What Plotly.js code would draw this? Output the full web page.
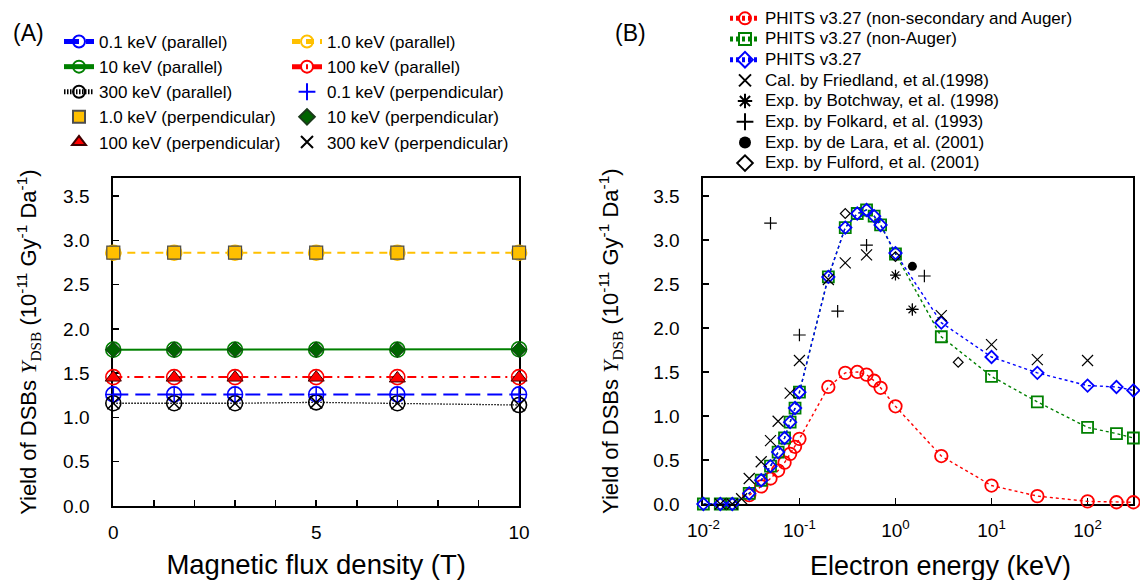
<!DOCTYPE html>
<html>
<head>
<meta charset="utf-8">
<script src="https://cdn.plot.ly/plotly-3.0.1.min.js"></script>
<style>
  html, body { margin: 0; padding: 0; background: #fff; }
  #chart { width: 1140px; height: 580px; }
</style>
</head>
<body>
<div id="chart"></div>
<script>
// ---------- Panel A: DSB yield versus magnetic flux density ----------
const fluxDensity = [0, 1.5, 3, 5, 7, 10];

const par_0_1keV = [1.26, 1.26, 1.26, 1.26, 1.26, 1.26];
const par_1_0keV = [2.86, 2.86, 2.86, 2.86, 2.86, 2.86];
const par_10keV = [1.765, 1.765, 1.765, 1.765, 1.765, 1.77];
const par_100keV = [1.455, 1.455, 1.455, 1.455, 1.455, 1.455];
const par_300keV = [1.16, 1.16, 1.16, 1.17, 1.16, 1.14];

const perp_0_1keV = [1.26, 1.26, 1.26, 1.26, 1.26, 1.26];
const perp_1_0keV = [2.86, 2.86, 2.86, 2.86, 2.86, 2.86];
const perp_10keV = [1.765, 1.765, 1.765, 1.765, 1.765, 1.765];
const perp_100keV = [1.45, 1.45, 1.45, 1.45, 1.44, 1.45];
const perp_300keV = [1.16, 1.16, 1.16, 1.17, 1.16, 1.14];

// ---------- Panel B: DSB yield versus electron energy ----------
const energyPhits = [0.01, 0.015, 0.02, 0.03, 0.04, 0.05, 0.06, 0.07, 0.08, 0.09, 0.1,
                     0.2, 0.3, 0.4, 0.5, 0.6, 0.7, 1, 3, 10, 30, 100, 200, 300];
const phitsFull = [0, 0, 0, 0.12, 0.27, 0.43, 0.59, 0.75, 0.93, 1.09, 1.27,
                   2.58, 3.14, 3.30, 3.34, 3.27, 3.17, 2.85, 2.06, 1.67, 1.49, 1.345, 1.33, 1.29];
const phitsNonAuger = [0, 0, 0, 0.12, 0.27, 0.43, 0.59, 0.75, 0.93, 1.09, 1.27,
                       2.58, 3.14, 3.30, 3.34, 3.27, 3.17, 2.84, 1.90, 1.45, 1.16, 0.87, 0.80, 0.75];

const energyNonSec = [0.03, 0.04, 0.05, 0.06, 0.07, 0.08, 0.09, 0.1,
                      0.2, 0.3, 0.4, 0.5, 0.6, 0.7, 1, 3, 10, 30, 100, 200, 300];
const phitsNonSec = [0.10, 0.20, 0.29, 0.38, 0.47, 0.57, 0.65, 0.74,
                     1.33, 1.49, 1.50, 1.47, 1.40, 1.32, 1.11, 0.545, 0.21, 0.09, 0.03, 0.02, 0.02];

const energyFriedland = [0.015, 0.02, 0.025, 0.03, 0.04, 0.05, 0.06, 0.08, 0.1, 0.2, 0.3, 0.5, 3, 10, 30, 100];
const yieldFriedland = [0, 0, 0.06, 0.29, 0.48, 0.72, 0.94, 1.26, 1.63, 2.55, 2.74, 2.83, 2.14, 1.81, 1.64, 1.63];

const energyBotchway = [1.0, 1.5];
const yieldBotchway = [2.60, 2.21];

const energyFolkard = [0.05, 0.1, 0.25, 0.5, 1.5, 2.0];
const yieldFolkard = [3.19, 1.92, 2.19, 2.94, 2.21, 2.59];

const energyDeLara = [1.5];
const yieldDeLara = [2.70];

const energyFulford = [0.3, 1.0, 4.5];
const yieldFulford = [3.30, 2.81, 1.61];

// ---------- styling helpers ----------
const BLUE = 'rgb(0,0,255)';
const GOLD = 'rgb(255,192,0)';
const GREEN = 'rgb(0,128,0)';
const RED = 'rgb(255,0,0)';
const BLACK = 'rgb(0,0,0)';

function lineTrace(x, y, name, color, dash, width, legend) {
  return {
    type: 'scatter', mode: 'lines+markers', x: x, y: y, name: name,
    xaxis: 'x', yaxis: 'y', legend: legend, cliponaxis: false,
    line: { color: color, dash: dash, width: width },
    marker: { symbol: 'circle-open', size: 15, color: color, line: { width: 1.6, color: color } }
  };
}
function markTrace(x, y, name, symbol, size, fill, edge, edgeW, legend) {
  return {
    type: 'scatter', mode: 'markers', x: x, y: y, name: name,
    xaxis: 'x', yaxis: 'y', legend: legend, cliponaxis: false,
    marker: { symbol: symbol, size: size, color: fill, line: { width: edgeW, color: edge } }
  };
}
function phitsTrace(x, y, name, color, symbol, size) {
  return {
    type: 'scatter', mode: 'lines+markers', x: x, y: y, name: name,
    xaxis: 'x2', yaxis: 'y2', legend: 'legend3', cliponaxis: false,
    line: { color: color, dash: '3px,3px', width: 1.4 },
    marker: { symbol: symbol, size: size, color: color, line: { width: 1.8, color: color } }
  };
}
function refTrace(x, y, name, symbol, size, edgeW) {
  return {
    type: 'scatter', mode: 'markers', x: x, y: y, name: name,
    xaxis: 'x2', yaxis: 'y2', legend: 'legend3', cliponaxis: false,
    marker: { symbol: symbol, size: size, color: BLACK, line: { width: edgeW, color: BLACK } }
  };
}
// legend labels for panel B keep a 17px glyph size inside a tighter row pitch
const big = s => '<span style="font-size:17px">' + s + '</span>';

const traces = [
  // panel A, parallel field (lines + open circles)
  lineTrace(fluxDensity, par_0_1keV, '0.1 keV (parallel)', BLUE, '15px,7px', 2, 'legend'),
  lineTrace(fluxDensity, par_1_0keV, '1.0 keV (parallel)', GOLD, '8px,6px', 2, 'legend2'),
  lineTrace(fluxDensity, par_10keV, '10 keV (parallel)', GREEN, 'solid', 2, 'legend'),
  lineTrace(fluxDensity, par_100keV, '100 keV (parallel)', RED, '9px,5px,2px,5px', 2, 'legend2'),
  lineTrace(fluxDensity, par_300keV, '300 keV (parallel)', BLACK, '1.5px,1.5px', 1.3, 'legend'),
  // panel A, perpendicular field (markers only)
  markTrace(fluxDensity, perp_0_1keV, '0.1 keV (perpendicular)', 'cross-thin-open', 11, BLUE, BLUE, 1.5, 'legend2'),
  markTrace(fluxDensity, perp_1_0keV, '1.0 keV (perpendicular)', 'square', 13, GOLD, '#4d4d4d', 1.2, 'legend'),
  markTrace(fluxDensity, perp_10keV, '10 keV (perpendicular)', 'diamond', 12, 'rgb(0,100,0)', '#1a3a1a', 1, 'legend2'),
  markTrace(fluxDensity, perp_100keV, '100 keV (perpendicular)', 'triangle-up', 14, RED, '#400000', 1, 'legend'),
  markTrace(fluxDensity, perp_300keV, '300 keV (perpendicular)', 'x-thin-open', 12, BLACK, BLACK, 1.5, 'legend2'),
  // panel B, PHITS calculations
  phitsTrace(energyNonSec, phitsNonSec, big('PHITS v3.27 (non-secondary and Auger)'), RED, 'circle-open', 12.5),
  phitsTrace(energyPhits, phitsNonAuger, big('PHITS v3.27 (non-Auger)'), GREEN, 'square-open', 11),
  phitsTrace(energyPhits, phitsFull, big('PHITS v3.27'), BLUE, 'diamond-open', 9.5),
  // panel B, published calculation and experiments
  refTrace(energyFriedland, yieldFriedland, big('Cal. by Friedland, et al.(1998)'), 'x-thin-open', 11, 1.2),
  refTrace(energyBotchway, yieldBotchway, big('Exp. by Botchway, et al. (1998)'), 'asterisk-open', 9, 1.2),
  refTrace(energyFolkard, yieldFolkard, big('Exp. by Folkard, et al. (1993)'), 'cross-thin-open', 9, 1.2),
  refTrace(energyDeLara, yieldDeLara, big('Exp. by de Lara, et al. (2001)'), 'circle', 9, 0),
  refTrace(energyFulford, yieldFulford, big('Exp. by Fulford, et al. (2001)'), 'diamond-open', 7.5, 1.2)
];

const yTitle = 'Yield of DSBs <span style="font-family:\'Liberation Serif\', serif"><i>Y</i><sub>DSB</sub></span>' +
               ' (10<sup>-11</sup> Gy<sup>-1</sup> Da<sup>-1</sup>)';

const yTicks = [0, 0.5, 1, 1.5, 2, 2.5, 3, 3.5];
const fluxTicks = [0, 5, 10];
const energyTicks = [0.01, 0.1, 1, 10, 100];
const energyTickText = ['10<sup>-2</sup>', '10<sup>-1</sup>', '10<sup>0</sup>', '10<sup>1</sup>', '10<sup>2</sup>'];

const axisCommon = {
  showline: true, linewidth: 2, linecolor: BLACK, mirror: true,
  showgrid: false, zeroline: false, ticks: 'inside', ticklen: 6, tickwidth: 1.5,
  tickcolor: BLACK, layer: 'below traces', tickfont: { size: 19 }
};

const legendCommon = {
  xref: 'paper', yref: 'paper', xanchor: 'left', yanchor: 'top',
  bgcolor: 'rgba(0,0,0,0)', borderwidth: 0, itemsizing: 'constant', itemwidth: 30,
  tracegroupgap: 0, itemclick: false, itemdoubleclick: false
};

const layout = {
  width: 1140, height: 580,
  margin: { l: 0, r: 0, t: 0, b: 0 },
  paper_bgcolor: '#fff', plot_bgcolor: '#fff',
  font: { family: 'Liberation Sans, Arial, sans-serif', size: 18, color: BLACK },
  showlegend: true,
  xaxis: Object.assign({}, axisCommon, {
    domain: [0.0994, 0.4553], range: [0, 10], anchor: 'y',
    tickmode: 'array', tickvals: fluxTicks, ticktext: fluxTicks.map(String), ticklabelstandoff: 8,
    minor: { dtick: 1, ticks: 'inside', ticklen: 6, tickwidth: 1.5, tickcolor: BLACK, showgrid: false },
    title: { text: 'Magnetic flux density (T)', font: { size: 27.5 }, standoff: 14 }
  }),
  yaxis: Object.assign({}, axisCommon, {
    domain: [0.1276, 0.6926], range: [0, 3.7], anchor: 'x',
    tickmode: 'array', tickvals: yTicks, ticktext: yTicks.map(v => v.toFixed(1)), ticklabelstandoff: 18,
    title: { text: yTitle, font: { size: 22 }, standoff: 20 }
  }),
  xaxis2: Object.assign({}, axisCommon, {
    domain: [0.617, 0.9942], type: 'log', range: [-2, Math.log10(300)], anchor: 'y2',
    tickmode: 'array', tickvals: energyTicks, ticktext: energyTickText, ticklabelstandoff: 8
  }),
  yaxis2: Object.assign({}, axisCommon, {
    domain: [0.131, 0.6926], range: [0, 3.7], anchor: 'x2',
    tickmode: 'array', tickvals: yTicks, ticktext: yTicks.map(v => v.toFixed(1)), ticklabelstandoff: 18,
    title: { text: yTitle, font: { size: 22 }, standoff: 28 }
  }),
  legend: Object.assign({}, legendCommon, { x: 59 / 1140, y: 1 - 24 / 580, font: { size: 17 } }),
  legend2: Object.assign({}, legendCommon, { x: 287 / 1140, y: 1 - 24 / 580, font: { size: 17 } }),
  legend3: Object.assign({}, legendCommon, { x: 725 / 1140, y: 1 - 3 / 580, font: { size: 13.6 } }),
  annotations: [
    { text: '(A)', xref: 'paper', yref: 'paper', x: 28 / 1140, y: 1 - 33 / 580,
      xanchor: 'center', yanchor: 'middle', showarrow: false, font: { size: 23 } },
    { text: '(B)', xref: 'paper', yref: 'paper', x: 630 / 1140, y: 1 - 33 / 580,
      xanchor: 'center', yanchor: 'middle', showarrow: false, font: { size: 23 } },
    // energy axis title, sitting slightly right of the axis centre
    { text: 'Electron energy (keV)', xref: 'paper', yref: 'paper', x: 940 / 1140, y: 1 - 566 / 580,
      xanchor: 'center', yanchor: 'middle', showarrow: false, font: { size: 27 } }
  ]
};

Plotly.newPlot('chart', traces, layout, { staticPlot: true, displayModeBar: false });
</script>
</body>
</html>
